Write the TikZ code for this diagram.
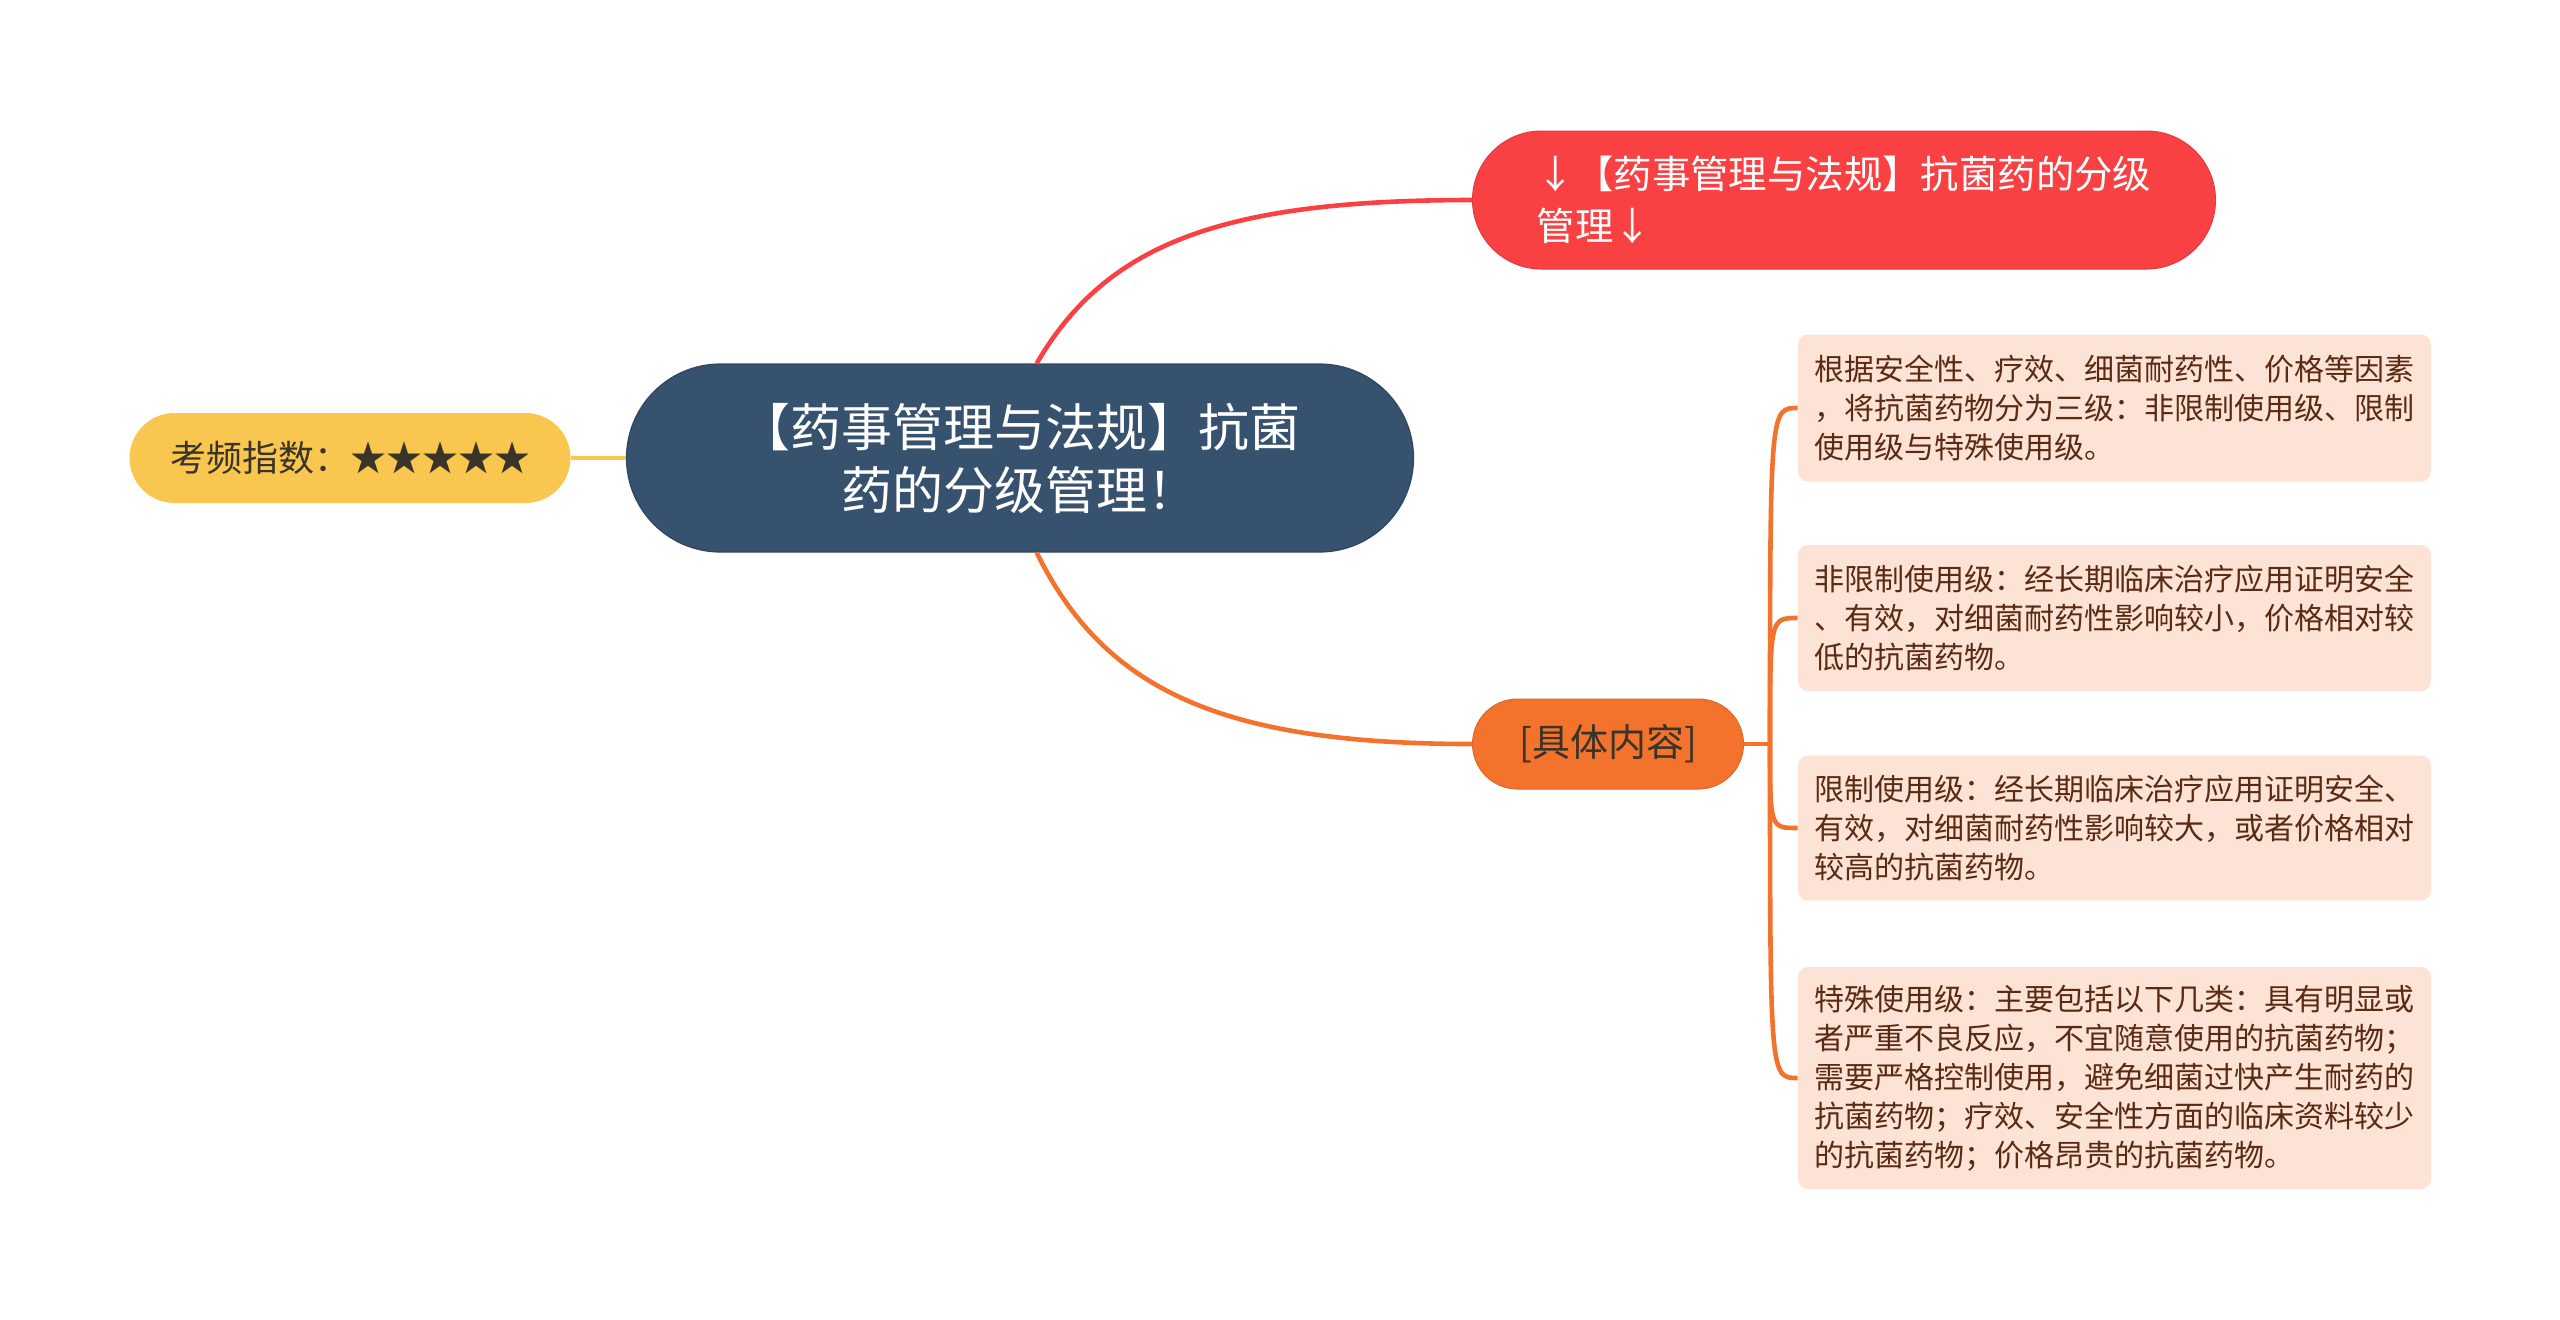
\documentclass[tikz,border=0pt]{standalone}
\usepackage{fontspec}
\setmainfont{Noto Sans CJK SC}

\definecolor{rootblue}{HTML}{37526E}
\definecolor{topicred}{HTML}{F94144}
\definecolor{topicorange}{HTML}{F3722C}
\definecolor{starsyellow}{HTML}{F9C74F}
\definecolor{leafpeach}{HTML}{FDE3D5}
\definecolor{leaftext}{HTML}{5A2A14}
\definecolor{darktext}{HTML}{3A3328}

\begin{document}
\begin{tikzpicture}[x=0.5pt,y=0.5pt,yscale=-1,
  every node/.style={inner sep=0pt},
  rootbox/.style={fill=rootblue, draw=rootblue!85!black, line width=0.6pt, rounded corners=47pt,
    minimum width=393.5pt, minimum height=94pt, text=white, align=center,
    font=\fontsize{25.5}{31.5}\selectfont},
  starbox/.style={fill=starsyellow, rounded corners=22.5pt, minimum width=220.5pt, minimum height=45pt,
    text=darktext, font=\fontsize{18}{22}\selectfont},
  redbox/.style={fill=topicred, draw=topicred!90!black, line width=0.5pt, rounded corners=34.5pt,
    minimum width=371.5pt, minimum height=69pt, text=white, align=left,
    font=\fontsize{19.2}{26}\selectfont},
  orangebox/.style={fill=topicorange, draw=topicorange!90!black, line width=0.5pt, rounded corners=22.5pt,
    minimum width=135.5pt, minimum height=45pt, text=darktext,
    font=\fontsize{19}{23}\selectfont},
  leafbox/.style={fill=leafpeach, rounded corners=5pt, minimum width=316.5pt, text=leaftext,
    align=left, font=\fontsize{15}{19.5}\selectfont},
  link/.style={line width=2.3pt}
]
\useasboundingbox (0,0) rectangle (2560,1319);

%=====Csomópontok=======
\node[rootbox] (root) at (1020,458) {【药事管理与法规】抗菌\\药的分级管理！};

\node[starbox] (stars) at (350,458) {考频指数：★★★★★};

\node[redbox] (red) at (1844,200) {↓【药事管理与法规】抗菌药的分级\\管理↓};

\node[orangebox] (detail) at (1608,744) {[具体内容]};

\node[leafbox, minimum height=73.5pt] (leafa) at (2114.5,408) {根据安全性、疗效、细菌耐药性、价格等因素\\，将抗菌药物分为三级：非限制使用级、限制\\使用级与特殊使用级。};

\node[leafbox, minimum height=73pt] (leafb) at (2114.5,618) {非限制使用级：经长期临床治疗应用证明安全\\、有效，对细菌耐药性影响较小，价格相对较\\低的抗菌药物。};

\node[leafbox, minimum height=72.5pt] (leafc) at (2114.5,828) {限制使用级：经长期临床治疗应用证明安全、\\有效，对细菌耐药性影响较大，或者价格相对\\较高的抗菌药物。};

\node[leafbox, minimum height=111pt] (leafd) at (2114.5,1078) {特殊使用级：主要包括以下几类：具有明显或\\者严重不良反应，不宜随意使用的抗菌药物；\\需要严格控制使用，避免细菌过快产生耐药的\\抗菌药物；疗效、安全性方面的临床资料较少\\的抗菌药物；价格昂贵的抗菌药物。};

%======Vonalak=========
\draw [link, starsyellow] (stars.east) -- (root.west);

\draw [link, topicred] (root.80) .. controls +(70,-120) and +(-250,0) .. (red.west);

\draw [link, topicorange] (root.-80) .. controls +(68,138) and +(-250,0) .. (detail.west);

\coordinate (fork) at (1770,744);
\draw [link, topicorange] (detail.east) -- (fork);
\foreach \leaf in {leafa,leafb,leafc,leafd}
  \draw [link, topicorange] (fork) .. controls (fork |- \leaf.west) and (fork |- \leaf.west) .. (\leaf.west);

\end{tikzpicture}
\end{document}
